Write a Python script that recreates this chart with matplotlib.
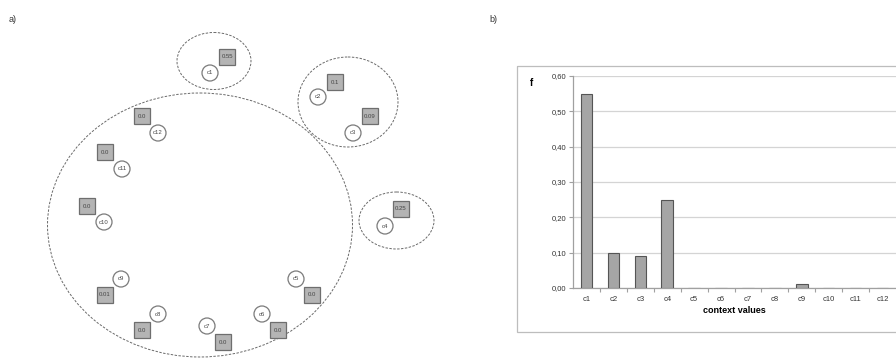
import matplotlib.pyplot as plt
from matplotlib.patches import Ellipse, Circle, Rectangle

plt.rcParams['font.family'] = ['Liberation Sans', 'DejaVu Sans']

# data
contexts = ['c1', 'c2', 'c3', 'c4', 'c5', 'c6', 'c7', 'c8', 'c9', 'c10', 'c11', 'c12']
freqs = [0.55, 0.10, 0.09, 0.25, 0.0, 0.0, 0.0, 0.0, 0.01, 0.0, 0.0, 0.0]
box_labels = ['0.55', '0.1', '0.09', '0.25', '0.0', '0.0', '0.0', '0.0', '0.01', '0.0', '0.0', '0.0']
y_ticks = [0.0, 0.1, 0.2, 0.3, 0.4, 0.5, 0.6]

# diagram layout (pixel coordinates of panel a)
node_xy = [(210, 73), (318, 97), (353, 133), (385, 226), (296, 279), (262, 314),
           (207, 326), (158, 314), (121, 279), (104, 222), (122, 169), (158, 133)]
box_xy = [(227, 57), (335, 82), (370, 116), (401, 209), (312, 295), (278, 330),
          (223, 342), (142, 330), (105, 295), (87, 206), (105, 152), (142, 116)]
groups = [((200, 225), 305, 264), ((214, 61), 74, 57), ((348, 102), 100, 90),
          ((396.5, 220.5), 75, 57)]

fig = plt.figure(figsize=(8.96, 3.58), dpi=100)
canvas = fig.add_axes([0, 0, 1, 1])
canvas.set_xlim(0, 896)
canvas.set_ylim(358, 0)
canvas.axis('off')

canvas.text(9, 20, 'a)', fontsize=6.5, ha='left', va='center', color='#333333')
canvas.text(489, 20, 'b)', fontsize=6.5, ha='left', va='center', color='#333333')

for (cx, cy), w, h in groups:
    canvas.add_patch(Ellipse((cx, cy), w, h, fill=False, ec='#6a6a6a', lw=0.7,
                             ls=(0, (2.5, 1.5))))

for name, (x, y) in zip(contexts, node_xy):
    canvas.add_patch(Circle((x, y), 8, fc='white', ec='#7a7a7a', lw=0.9, zorder=3))
    canvas.text(x, y, name, fontsize=4.3, ha='center', va='center', color='#444444', zorder=4)

bs = 16.5
for lab, (x, y) in zip(box_labels, box_xy):
    canvas.add_patch(Rectangle((x - bs / 2, y - bs / 2), bs, bs, fc='#b4b4b4',
                               ec='#6e6e6e', lw=0.9, zorder=3))
    canvas.text(x, y, lab, fontsize=4.3, ha='center', va='center', color='#444444', zorder=4)

# chart area frame of panel b
canvas.add_patch(Rectangle((517, 66), 390, 266, fill=False, ec='#bdbdbd', lw=0.9))
canvas.text(532, 83, 'f', fontsize=7, fontweight='bold', ha='center', va='center')

# bar chart
ax = fig.add_axes([573 / 896, (358 - 288) / 358, (896 - 573) / 896, (288 - 76) / 358])
ax.patch.set_alpha(0)
xs = range(len(contexts))
ax.bar(xs, freqs, width=0.43, color='#a5a5a5', edgecolor='#555555', lw=0.8, zorder=3)
ax.set_xlim(-0.5, len(contexts) - 0.5)
ax.set_ylim(0, 0.6)
ax.set_yticks(y_ticks)
ax.set_yticklabels([f'{v:.2f}'.replace('.', ',') for v in y_ticks], fontsize=5.5, color='#333333')
ax.set_xticks([i + 0.5 for i in xs][:-1], minor=False)
ax.set_xticklabels([])
ax.set_xticks(list(xs), minor=True)
ax.set_xticklabels(contexts, minor=True, fontsize=5.5, color='#333333')
ax.tick_params(axis='x', which='major', length=3, color='#a0a0a0', width=0.8)
ax.tick_params(axis='x', which='minor', length=0, pad=6)
ax.tick_params(axis='y', length=3, color='#a0a0a0', width=0.8, pad=2)
ax.grid(axis='y', color='#d4d4d4', lw=0.9, zorder=0)
for s in ['top', 'right']:
    ax.spines[s].set_visible(False)
for s in ['left', 'bottom']:
    ax.spines[s].set_color('#a0a0a0')
    ax.spines[s].set_linewidth(0.9)
ax.set_xlabel('context values', fontsize=6.5, fontweight='bold', labelpad=2)

fig.savefig('out.png', dpi=100)
